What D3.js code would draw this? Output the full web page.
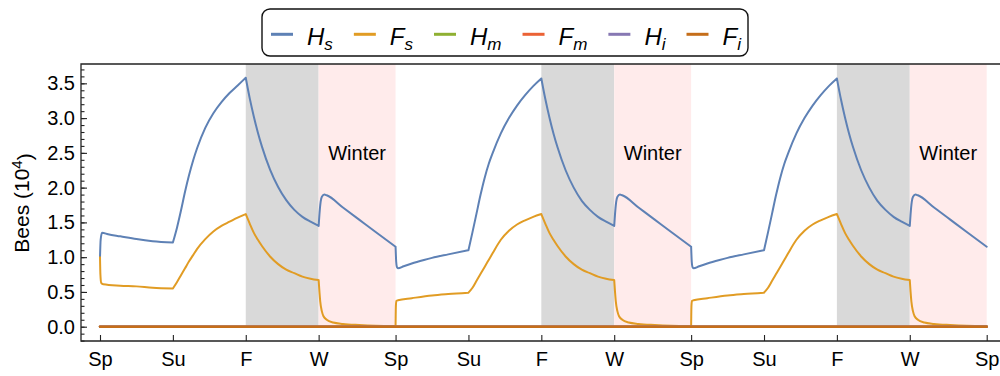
<!DOCTYPE html>
<html>
<head>
<meta charset="utf-8">
<script src="https://cdn.jsdelivr.net/npm/d3@7"></script>
<style>
  body { margin: 0; background: #fff; }
  svg { font-family: "Liberation Sans", Arial, sans-serif; display: block; }
</style>
</head>
<body>
<div id="chart"></div>
<script>
// season ticks (days)
var tickDays = [0, 90, 180, 270, 365, 455, 545, 635, 730, 820, 910, 1000, 1095];
var tickLabels = ["Sp", "Su", "F", "W", "Sp", "Su", "F", "W", "Sp", "Su", "F", "W", "Sp"];
var fallStart = [180, 545, 910];
var winterStart = [270, 635, 1000];
var winterEnd = [365, 730, 1095];
var yTicks = [0, 0.5, 1, 1.5, 2, 2.5, 3, 3.5];

// H_s (10^4 bees)
var hsT = [0, 0.8, 2.5, 10, 25, 45, 65, 90, 95, 100, 105, 110, 115, 120, 130, 140, 150, 160, 170, 180,
  185, 190, 195, 200, 210, 220, 230, 240, 250, 260, 270, 271, 272.5, 274, 277, 280, 300, 320, 340, 365,
  365.8, 366.6, 368, 375, 385, 400, 410, 430, 455, 460, 465, 470, 475, 480, 485, 495, 505, 515, 525, 535, 545,
  550, 555, 560, 565, 575, 585, 595, 605, 615, 625, 635, 636, 637.5, 639, 642, 645, 665, 685, 705, 730,
  730.8, 731.6, 733, 740, 750, 765, 775, 795, 820, 825, 830, 835, 840, 845, 850, 860, 870, 880, 890, 900, 910,
  915, 920, 925, 930, 940, 950, 960, 970, 980, 990, 1000, 1001, 1002.5, 1004, 1007, 1010, 1030, 1050, 1070, 1095];
var hsV = [1.00, 1.25, 1.35, 1.33, 1.30, 1.26, 1.23, 1.21, 1.42, 1.67, 1.94, 2.18, 2.39, 2.57, 2.86, 3.07, 3.23, 3.36, 3.47, 3.58,
  3.28, 3.02, 2.79, 2.59, 2.26, 2.01, 1.82, 1.68, 1.58, 1.51, 1.45, 1.62, 1.80, 1.87, 1.90, 1.89, 1.715, 1.54, 1.365, 1.15,
  0.93, 0.86, 0.84, 0.87, 0.91, 0.96, 0.99, 1.04, 1.10, 1.36, 1.63, 1.90, 2.14, 2.34, 2.50, 2.78, 3.00, 3.18, 3.33, 3.46, 3.57,
  3.27, 3.01, 2.78, 2.58, 2.25, 2.00, 1.81, 1.68, 1.58, 1.51, 1.45, 1.62, 1.80, 1.87, 1.90, 1.89, 1.715, 1.54, 1.365, 1.15,
  0.93, 0.86, 0.84, 0.87, 0.91, 0.96, 0.99, 1.04, 1.10, 1.36, 1.63, 1.90, 2.14, 2.34, 2.50, 2.78, 3.00, 3.18, 3.33, 3.46, 3.57,
  3.27, 3.01, 2.78, 2.58, 2.25, 2.00, 1.81, 1.68, 1.58, 1.51, 1.45, 1.62, 1.80, 1.87, 1.90, 1.89, 1.715, 1.54, 1.365, 1.15];

// F_s
var fsT = [0, 0.5, 1.5, 4, 25, 45, 65, 90, 95, 100, 105, 110, 115, 120, 130, 140, 150, 160, 170, 180,
  185, 190, 195, 200, 210, 220, 230, 240, 250, 260, 270, 271, 272, 274, 276, 280, 288, 300, 320, 340, 365,
  365.4, 366, 368, 385, 410, 430, 455, 460, 465, 470, 475, 480, 485, 495, 505, 515, 525, 535, 545,
  550, 555, 560, 565, 575, 585, 595, 605, 615, 625, 635, 636, 637, 639, 641, 645, 653, 665, 685, 705, 730,
  730.4, 731, 733, 750, 775, 795, 820, 825, 830, 835, 840, 845, 850, 860, 870, 880, 890, 900, 910,
  915, 920, 925, 930, 940, 950, 960, 970, 980, 990, 1000, 1001, 1002, 1004, 1006, 1010, 1018, 1030, 1050, 1070, 1095];
var fsV = [1.00, 0.75, 0.63, 0.61, 0.59, 0.58, 0.56, 0.55, 0.64, 0.74, 0.84, 0.94, 1.03, 1.12, 1.26, 1.37, 1.45, 1.51, 1.57, 1.62,
  1.48, 1.35, 1.25, 1.16, 1.01, 0.90, 0.82, 0.77, 0.72, 0.69, 0.67, 0.50, 0.36, 0.22, 0.15, 0.10, 0.06, 0.04, 0.025, 0.015, 0.01,
  0.30, 0.37, 0.38, 0.41, 0.45, 0.47, 0.49, 0.56, 0.66, 0.76, 0.86, 0.96, 1.06, 1.25, 1.38, 1.47, 1.53, 1.58, 1.62,
  1.48, 1.35, 1.25, 1.16, 1.01, 0.90, 0.82, 0.77, 0.72, 0.69, 0.67, 0.50, 0.36, 0.22, 0.15, 0.10, 0.06, 0.04, 0.025, 0.015, 0.01,
  0.30, 0.37, 0.38, 0.41, 0.45, 0.47, 0.49, 0.56, 0.66, 0.76, 0.86, 0.96, 1.06, 1.25, 1.38, 1.47, 1.53, 1.58, 1.62,
  1.48, 1.35, 1.25, 1.16, 1.01, 0.90, 0.82, 0.77, 0.72, 0.69, 0.67, 0.50, 0.36, 0.22, 0.15, 0.10, 0.06, 0.04, 0.025, 0.015, 0.01];

// the other compartments stay at zero
var zeroT = [0, 1095];
var hmV = [0, 0];
var fmV = [0, 0];
var hiV = [0, 0];
var fiV = [0, 0];

var seriesNames = ["H|s", "F|s", "H|m", "F|m", "H|i", "F|i"];
var colors = ["#5e81b5", "#e19c24", "#8fb032", "#eb6235", "#8778b3", "#c56e1a"];

var width = 1000, height = 376,
    margin = {top: 64, right: 13.3, bottom: 35, left: 81};

var svg = d3.select("#chart").append("svg")
    .attr("width", width)
    .attr("height", height);

var x = d3.scaleLinear().domain([0, 1095]).range([100, 986.7]);
var y = d3.scaleLinear().domain([-0.2056, 3.778]).range([height - margin.bottom, margin.top]);

// season shading
var shade = svg.append("g");
fallStart.forEach(function(d, i) {
  shade.append("rect")
    .attr("x", x(d)).attr("y", y.range()[1])
    .attr("width", x(winterStart[i]) - x(d))
    .attr("height", y(0) - y.range()[1])
    .style("fill", "#d9d9d9");
  shade.append("rect")
    .attr("x", x(winterStart[i])).attr("y", y.range()[1])
    .attr("width", x(winterEnd[i]) - x(winterStart[i]))
    .attr("height", y(0) - y.range()[1])
    .style("fill", "#ffebeb");
  shade.append("text")
    .attr("x", (x(winterStart[i]) + x(winterEnd[i])) / 2)
    .attr("y", y(2.5))
    .attr("dy", "0.35em")
    .style("text-anchor", "middle")
    .style("font-size", "20px")
    .text("Winter");
});

// lines: smooth pieces between season changes, so corners stay sharp
var line = d3.line()
  .x(d => x(d[0]))
  .y(d => y(d[1]))
  .curve(d3.curveMonotoneX);

function pieces(pts) {
  var segs = [[]];
  pts.forEach(function(p) {
    segs[segs.length - 1].push(p);
    if (tickDays.indexOf(p[0]) >= 0) segs.push([p]);
  });
  return segs.filter(s => s.length > 1).map(s => line(s)).join("");
}

var allSeries = [
  d3.zip(hsT, hsV), d3.zip(fsT, fsV),
  d3.zip(zeroT, hmV), d3.zip(zeroT, fmV), d3.zip(zeroT, hiV), d3.zip(zeroT, fiV)
];
allSeries.forEach(function(s, i) {
  svg.append("path")
    .attr("d", pieces(s))
    .style("fill", "none")
    .style("stroke", colors[i])
    .style("stroke-width", i > 1 ? 2.4 : 2)
    .style("stroke-linejoin", "round")
    .style("stroke-linecap", "round");
});

// axes
var axisColor = "#222";
var yAxis = d3.axisLeft(y).tickValues(yTicks).tickFormat(d3.format(".1f"))
  .tickSizeInner(-6).tickSizeOuter(0).tickPadding(6);
var yMinor = d3.axisLeft(y).tickValues(d3.range(-2, 38).map(d => d / 10)).tickFormat("")
  .tickSizeInner(-3.5).tickSizeOuter(0);
var xAxis = d3.axisBottom(x).tickValues(tickDays).tickFormat((d, i) => tickLabels[i])
  .tickSizeInner(-6).tickSizeOuter(0).tickPadding(11);

var gyMinor = svg.append("g").attr("transform", `translate(${margin.left},0)`).call(yMinor);
var gy = svg.append("g").attr("transform", `translate(${margin.left},0)`).call(yAxis);
var gx = svg.append("g").attr("transform", `translate(0,${height - margin.bottom})`).call(xAxis);

[gyMinor, gy, gx].forEach(function(g) {
  g.select(".domain").remove();
  g.selectAll("line").style("stroke", axisColor).style("stroke-width", 1.1);
  g.selectAll("text").style("font-size", "20px").style("fill", "#000")
    .style("font-family", "'Liberation Sans', Arial, sans-serif");
});

// frame (right side runs off the picture)
svg.append("path")
  .attr("d", `M${width + 2},${margin.top}H${margin.left}V${height - margin.bottom}H${width + 2}`)
  .style("fill", "none")
  .style("stroke", axisColor)
  .style("stroke-width", 1.3);

// y label
var ylab = svg.append("text")
  .attr("transform", "translate(29,203) rotate(-90)")
  .style("text-anchor", "middle")
  .style("font-size", "21px");
ylab.append("tspan").text("Bees (10");
ylab.append("tspan").text("4").attr("dy", "-0.45em").style("font-size", "15px");
ylab.append("tspan").text(")").attr("dy", "0.45em");

// legend
var legend = svg.append("g");
legend.append("rect")
  .attr("x", 262).attr("y", 9).attr("width", 486).attr("height", 47)
  .attr("rx", 8).attr("ry", 8)
  .style("fill", "#fff").style("stroke", "#111").style("stroke-width", 1.4);

var lx = 271;
seriesNames.forEach(function(n, i) {
  var parts = n.split("|");
  legend.append("line")
    .attr("x1", lx).attr("x2", lx + 22)
    .attr("y1", 34.3).attr("y2", 34.3)
    .style("stroke", colors[i]).style("stroke-width", 3);
  var t = legend.append("text")
    .attr("x", lx + 36).attr("y", 45)
    .style("font-size", "24px").style("font-style", "italic");
  t.append("tspan").text(parts[0]);
  t.append("tspan").text(parts[1]).attr("dy", 5).style("font-size", "17px");
  lx = lx + 36 + t.node().getComputedTextLength() + 21;
});
</script>
</body>
</html>
